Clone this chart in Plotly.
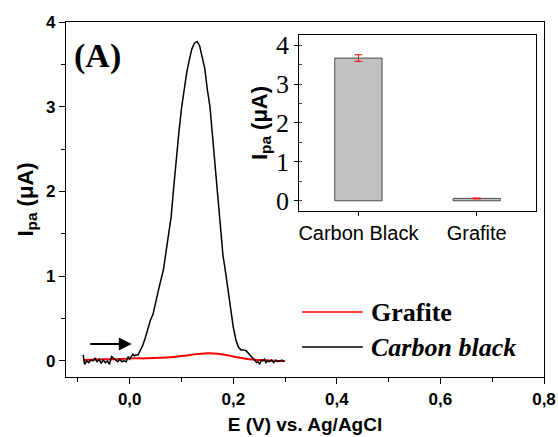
import plotly.graph_objects as go

# Carbon black DPV curve
cb_E = [-0.090, -0.087, -0.083, -0.079, -0.075, -0.071, -0.067, -0.063, -0.059, -0.055,
        -0.051, -0.047, -0.043, -0.039, -0.035, -0.031, -0.027, -0.023, -0.019, -0.015,
        -0.011, -0.007, -0.003, 0.000, 0.003, 0.006, 0.009, 0.012, 0.016, 0.020,
        0.025, 0.030, 0.035, 0.040, 0.045, 0.050, 0.055, 0.060, 0.065, 0.070,
        0.075, 0.080, 0.085, 0.090, 0.095, 0.100, 0.105, 0.110, 0.115, 0.120,
        0.125, 0.130, 0.135, 0.140, 0.145, 0.150, 0.155, 0.160, 0.165, 0.170,
        0.175, 0.180, 0.185, 0.190, 0.195, 0.200, 0.205, 0.210, 0.215, 0.220,
        0.225, 0.230, 0.235, 0.240, 0.245, 0.248, 0.251, 0.254, 0.257, 0.260,
        0.263, 0.266, 0.270, 0.274, 0.278, 0.282, 0.286, 0.290, 0.294, 0.298]
cb_I = [0.07, -0.04, 0.00, -0.02, 0.01, 0.00, 0.03, -0.01, 0.02, -0.03,
        0.01, -0.02, 0.00, -0.04, 0.05, 0.03, 0.02, -0.01, 0.02, -0.01,
        0.00, -0.01, 0.05, 0.02, 0.05, 0.08, 0.06, 0.07, 0.07, 0.12,
        0.18, 0.27, 0.38, 0.48, 0.55, 0.67, 0.82, 0.95, 1.07, 1.28,
        1.50, 1.70, 2.05, 2.40, 2.70, 2.98, 3.20, 3.40, 3.55, 3.68,
        3.75, 3.77, 3.72, 3.60, 3.45, 3.20, 3.00, 2.65, 2.30, 1.95,
        1.55, 1.25, 1.05, 0.82, 0.60, 0.40, 0.25, 0.16, 0.13, 0.13,
        0.12, 0.08, 0.05, 0.02, -0.02, -0.01, -0.04, 0.01, 0.00, 0.02,
        -0.02, 0.00, -0.01, 0.01, -0.02, 0.01, -0.01, 0.00, 0.01, -0.01]

# Grafite DPV curve
gr_E = [-0.09, -0.07, -0.05, -0.03, -0.01, 0.01, 0.03, 0.05, 0.07, 0.09, 0.11,
        0.13, 0.15, 0.17, 0.19, 0.21, 0.23, 0.25, 0.27, 0.29, 0.30]
gr_I = [0.01, 0.015, 0.02, 0.02, 0.025, 0.03, 0.03, 0.035, 0.04, 0.05, 0.065,
        0.08, 0.09, 0.085, 0.065, 0.04, 0.02, 0.01, 0.005, 0.0, 0.0]

# Inset bar data
bar_cats = ["Carbon Black", "Grafite"]
bar_vals = [3.67, 0.06]
bar_err = [0.085, 0.01]

x_ticks = [0.0, 0.2, 0.4, 0.6, 0.8]
y_ticks = [0, 1, 2, 3, 4]
inset_ticks = [0, 1, 2, 3, 4]

SANS = "Liberation Sans, Arial, sans-serif"
SERIF = "Liberation Serif, Times New Roman, serif"
YTITLE = "I<sub style='font-size:19px'>pa</sub> (μA)"

fig = go.Figure()
fig.add_trace(go.Scatter(x=gr_E, y=gr_I, mode="lines", line=dict(color="red", width=2, shape="spline"),
                         showlegend=False, xaxis="x", yaxis="y"))
fig.add_trace(go.Scatter(x=cb_E, y=cb_I, mode="lines", line=dict(color="black", width=1.5),
                         showlegend=False, xaxis="x", yaxis="y"))
fig.add_trace(go.Bar(x=bar_cats, y=bar_vals, width=0.4,
                     marker=dict(color="#c0c0c0", line=dict(color="#4d4d4d", width=1)),
                     error_y=dict(type="data", array=bar_err, color="red", thickness=1, width=4),
                     showlegend=False, xaxis="x2", yaxis="y2"))

fig.update_layout(
    width=558, height=437,
    margin=dict(l=66, r=14, t=22, b=60),
    paper_bgcolor="white", plot_bgcolor="white",
    separators=",.",
    showlegend=False,
    xaxis=dict(domain=[0, 1], range=[-0.123, 0.8], tickvals=x_ticks, tickformat=".1f", automargin=False,
               showgrid=False, zeroline=False, showline=True, linecolor="black", linewidth=1.2,
               mirror=True, ticks="outside", ticklen=6, tickcolor="black",
               minor=dict(dtick=0.1, ticks="outside", ticklen=4, tickcolor="black"),
               tickfont=dict(family=SANS, size=17, color="black", weight="bold"),
               title=dict(text="E (V) vs. Ag/AgCl", font=dict(family=SANS, size=19, color="black", weight="bold"),
                          standoff=10)),
    yaxis=dict(domain=[0, 1], range=[-0.19, 4.0], tickvals=y_ticks, automargin=False,
               showgrid=False, zeroline=False, showline=True, linecolor="black", linewidth=1.2,
               mirror=True, ticks="outside", ticklen=6, tickcolor="black",
               minor=dict(dtick=0.5, ticks="outside", ticklen=4, tickcolor="black"),
               tickfont=dict(family=SANS, size=17, color="black", weight="bold"),
               title=dict(text=YTITLE, font=dict(family=SANS, size=22, color="black", weight="bold"),
                          standoff=6)),
    xaxis2=dict(domain=[0.488, 0.983], anchor="y2", range=[-0.5, 1.5], automargin=False,
                showgrid=False, zeroline=False, showline=True, linecolor="black", linewidth=1.2,
                mirror=True, ticks="outside", ticklen=4, tickcolor="black",
                tickfont=dict(family=SANS, size=20, color="black")),
    yaxis2=dict(domain=[0.468, 0.963], anchor="x2", range=[-0.26, 4.26], tickvals=inset_ticks, automargin=False,
                showgrid=False, zeroline=False, showline=True, linecolor="black", linewidth=1.2,
                mirror=True, ticks="outside", ticklen=4, tickcolor="black",
                minor=dict(dtick=0.5, ticks="inside", ticklen=3, tickcolor="#444"),
                tickfont=dict(family=SERIF, size=26, color="black"),
                title=dict(text=YTITLE, font=dict(family=SANS, size=22, color="black", weight="bold"),
                           standoff=2)),
)

# Legend drawn manually (long sample lines as in the reference)
fig.add_shape(type="line", xref="paper", yref="paper", x0=0.494, x1=0.621, y0=0.183, y1=0.183,
              line=dict(color="red", width=1.5))
fig.add_shape(type="line", xref="paper", yref="paper", x0=0.494, x1=0.621, y0=0.0845, y1=0.0845,
              line=dict(color="black", width=1.5))
fig.add_annotation(text="Grafite", xref="paper", yref="paper", x=0.634, y=0.183, xanchor="left",
                   yanchor="middle", showarrow=False,
                   font=dict(family=SERIF, size=26, color="black", weight="bold"))
fig.add_annotation(text="<i>Carbon black</i>", xref="paper", yref="paper", x=0.634, y=0.0845, xanchor="left",
                   yanchor="middle", showarrow=False,
                   font=dict(family=SERIF, size=26, color="black", weight="bold"))

# Panel label
fig.add_annotation(text="(A)", xref="paper", yref="paper", x=0.012, y=0.903, xanchor="left",
                   yanchor="middle", showarrow=False,
                   font=dict(family=SERIF, size=34, color="black", weight="bold"))

# Scan direction arrow
fig.add_annotation(x=0.004, y=0.2, ax=-0.079, ay=0.2, xref="x", yref="y", axref="x", ayref="y",
                   text="", showarrow=True, arrowhead=2, arrowsize=1.3, arrowwidth=2, arrowcolor="black")

fig.write_html("out.html")
